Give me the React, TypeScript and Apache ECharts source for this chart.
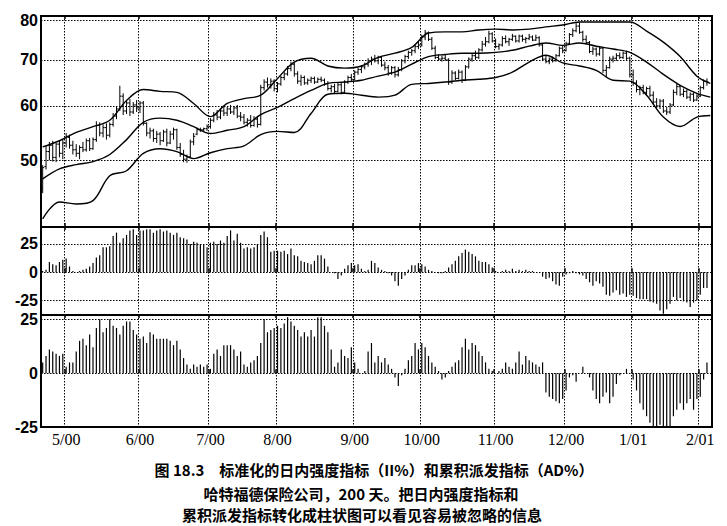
import React, { useEffect, useRef } from 'react';
import * as echarts from 'echarts';

const DAY_COUNT = 200;
const monthLabels = ['5/00', '6/00', '7/00', '8/00', '9/00', '10/00', '11/00', '12/00', '1/01', '2/01'];
const monthStarts = [7, 29, 50, 70, 93, 113, 135, 156, 176, 196];
const priceTicks = [50, 60, 70, 80];
const histTicks = [-25, 0, 25];

// [open, high, low, close] per trading day
const priceBars = [
  [45.5,49.2,44.8,48.8],[49.0,52.5,48.5,51.5],[51.5,53.2,50.0,52.6],[52.6,53.4,49.8,50.5],[50.5,53.0,49.7,52.8],
  [52.8,53.5,50.5,51.2],[51.2,53.6,50.2,53.0],[53.0,54.8,52.2,54.2],[54.0,54.5,52.0,52.6],[52.6,53.4,51.0,51.8],
  [51.8,52.8,50.6,51.2],[51.2,52.6,50.2,52.2],[52.2,53.2,51.4,51.8],[51.8,53.8,51.5,53.4],[53.4,53.9,51.6,52.0],
  [52.0,54.0,51.8,53.6],[53.6,57.0,53.2,56.2],[56.2,56.8,54.2,54.8],[54.8,56.4,54.0,55.8],[55.8,56.6,53.6,54.4],
  [54.4,56.8,54.0,56.4],[56.4,58.6,56.0,58.0],[58.0,60.0,57.4,59.4],[59.4,64.2,59.0,62.0],[62.0,62.6,58.2,59.0],
  [59.0,61.0,58.4,60.6],[60.6,61.4,58.0,58.8],[58.8,60.8,58.4,60.2],[60.2,61.2,58.8,59.6],[59.6,61.0,58.6,60.6],
  [60.6,61.0,56.2,56.6],[56.6,56.8,54.2,54.8],[54.8,55.8,53.8,55.2],[55.2,55.6,53.2,53.8],[53.8,55.2,53.0,54.6],
  [54.6,55.0,52.6,53.4],[53.4,55.4,53.2,55.0],[55.0,55.6,52.4,53.0],[53.0,55.2,52.8,54.6],[54.6,55.8,53.6,55.4],
  [55.4,55.6,51.8,52.2],[52.2,53.0,50.6,51.0],[51.0,51.8,49.7,50.2],[50.2,51.0,49.6,50.6],[50.6,53.6,50.4,53.2],
  [53.2,54.8,52.6,54.2],[54.6,55.8,54.4,55.4],[55.4,55.8,55.0,55.4],[55.4,55.8,55.0,55.6],[55.6,56.4,55.2,56.0],
  [56.0,57.6,55.6,57.2],[57.2,58.8,56.8,58.2],[58.2,59.2,57.2,57.8],[57.8,59.6,57.4,59.0],[59.0,60.0,58.0,58.6],
  [58.6,59.8,58.0,59.4],[59.4,60.2,58.4,58.8],[58.8,60.0,58.2,59.6],[59.6,60.2,57.6,58.0],[58.0,58.8,57.0,57.8],
  [57.8,58.4,56.4,56.8],[56.8,57.6,56.0,57.2],[57.2,58.2,55.8,56.2],[56.2,58.0,56.0,57.4],[57.4,57.8,55.8,56.4],
  [56.4,64.4,56.2,63.8],[63.8,65.6,63.2,65.0],[65.0,66.0,63.8,64.4],[64.4,65.8,63.6,65.2],[65.2,65.6,63.0,63.6],
  [63.6,65.0,62.8,64.6],[64.6,66.4,64.2,66.0],[66.0,67.2,65.4,66.8],[66.8,68.6,66.4,68.0],[68.0,69.6,67.4,69.0],
  [69.0,69.4,66.2,66.8],[66.8,67.4,64.6,65.2],[65.2,66.6,64.2,66.0],[66.0,66.4,64.4,64.8],[64.8,65.8,64.4,65.4],
  [65.4,66.2,64.8,65.8],[65.8,66.2,64.6,65.0],[65.0,66.0,64.8,65.6],[65.6,66.2,65.0,65.4],[65.4,65.8,64.2,64.6],
  [64.6,65.2,63.2,63.6],[63.6,64.4,62.8,64.0],[64.0,64.6,62.6,63.0],[63.0,64.8,62.8,64.4],[64.4,64.8,62.4,62.8],
  [62.8,65.4,62.6,65.0],[65.0,66.4,64.6,66.0],[66.0,66.8,65.2,65.6],[65.6,67.6,65.4,67.2],[67.2,68.2,66.6,67.8],
  [67.8,68.8,67.0,68.4],[68.4,69.4,67.8,69.0],[69.0,70.4,68.4,69.8],[69.8,70.8,68.8,70.2],[70.2,71.2,69.4,69.8],
  [69.8,71.0,69.0,70.6],[70.6,70.8,68.4,68.8],[68.8,69.6,67.6,68.2],[68.2,68.8,66.4,67.0],[67.0,68.6,66.6,68.2],
  [68.2,68.6,66.0,66.6],[66.6,68.4,66.2,67.8],[67.8,70.2,67.4,69.8],[69.8,71.2,69.2,70.8],[70.8,72.2,70.2,71.8],
  [71.8,72.6,71.0,72.2],[72.2,73.8,71.6,73.2],[73.2,74.4,72.6,73.6],[73.6,76.2,73.2,75.6],[75.6,77.4,74.8,76.6],
  [76.6,77.0,74.6,75.0],[75.0,75.6,72.4,72.8],[72.8,73.4,70.2,70.6],[70.6,71.4,69.8,70.2],[70.2,71.0,69.6,70.4],
  [70.4,71.2,69.8,70.0],[70.0,70.4,64.4,65.0],[65.0,67.6,64.6,67.0],[67.0,67.4,65.4,65.8],[65.8,67.8,65.6,67.2],
  [67.2,67.6,64.8,65.4],[65.4,68.8,65.2,68.4],[68.4,70.6,68.0,70.2],[70.2,71.6,69.6,71.0],[71.0,72.2,70.0,70.6],
  [70.6,72.8,70.2,72.4],[72.4,74.6,72.0,73.8],[73.8,75.6,73.2,74.4],[74.4,77.2,74.0,76.4],[76.4,76.8,74.2,74.6],
  [74.6,75.2,72.8,73.2],[73.2,74.0,72.4,73.6],[73.6,75.8,73.2,75.2],[75.2,76.0,74.0,74.4],[74.4,75.4,73.4,75.0],
  [75.0,76.4,74.6,75.8],[75.8,76.0,74.2,74.6],[74.6,76.2,74.2,75.8],[75.8,76.2,74.4,75.0],[75.0,75.6,74.0,75.2],
  [75.2,76.4,74.8,75.6],[75.6,76.0,74.6,74.8],[74.8,76.2,74.6,75.4],[75.4,75.8,73.2,73.6],[73.6,74.0,69.8,70.2],
  [70.2,71.0,69.2,69.6],[69.6,70.6,69.0,70.2],[70.2,70.8,69.4,69.8],[69.8,71.4,69.6,71.0],[71.0,73.2,70.8,72.8],
  [72.8,73.6,71.6,72.2],[72.2,74.4,72.0,74.0],[74.0,76.6,73.8,76.2],[76.2,77.8,75.6,77.2],[77.2,79.2,76.8,78.4],
  [78.4,79.4,76.4,76.8],[76.8,77.2,74.4,75.0],[75.0,76.0,73.8,74.2],[74.2,74.6,71.6,72.0],[72.0,73.2,71.2,72.6],
  [72.6,73.0,70.8,71.4],[71.4,73.2,71.0,72.8],[72.8,73.0,67.0,67.6],[67.6,68.8,66.0,68.2],[68.2,70.8,68.0,70.2],
  [70.2,71.0,69.4,70.4],[70.4,71.6,69.8,71.0],[71.0,71.8,70.2,70.6],[70.6,72.0,70.2,71.6],[71.6,72.2,70.0,70.4],
  [70.4,70.8,66.0,66.6],[66.6,67.8,64.2,64.8],[64.8,65.4,62.8,63.4],[63.4,64.2,62.2,63.8],[63.8,64.4,62.4,62.8],
  [62.8,64.0,62.2,63.6],[63.6,64.2,61.8,62.2],[62.2,63.0,60.2,60.8],[60.8,61.6,59.6,60.0],[60.0,61.4,59.4,61.0],
  [61.0,61.4,58.6,59.0],[59.0,59.8,58.2,58.8],[58.8,60.6,58.4,60.2],[60.2,63.4,60.0,62.8],[62.8,64.6,62.2,64.0],
  [64.0,64.4,62.0,62.4],[62.4,63.6,61.8,63.0],[63.0,63.4,61.4,61.8],[61.8,62.8,61.0,62.4],[62.4,62.8,60.8,61.2],
  [61.2,62.4,61.0,62.0],[62.0,64.2,61.8,63.8],[63.8,65.6,63.4,65.2],[65.2,65.8,64.2,65.0],
];

// Bollinger-style bands, read at every fifth day
const bandDays = [0,5,10,15,20,25,30,35,40,45,50,55,60,65,70,75,80,85,90,95,100,105,110,115,120,125,130,135,140,145,150,155,160,165,170,175,180,185,190,195,199];
const upperBand = [52.3,53.4,54.9,56.0,57.2,61.1,63.4,63.0,62.8,60.5,57.9,60.5,61.5,62.2,65.8,69.5,70.4,68.6,68.1,68.6,70.6,71.6,73.0,76.6,76.9,76.9,77.4,77.6,77.4,77.6,78.2,78.7,79.5,79.5,79.5,79.5,77.1,74.3,70.8,66.3,64.7];
const middleBand = [47.0,48.6,49.3,49.8,51.0,53.6,56.8,57.6,57.2,56.0,54.7,55.3,56.0,58.3,59.7,61.5,63.2,64.7,65.0,65.4,66.3,67.2,69.0,70.8,71.3,71.6,71.6,71.8,72.3,73.3,74.1,73.5,74.1,73.3,72.6,71.8,69.5,66.7,64.3,62.6,61.8];
const lowerBand = [41.1,43.5,43.2,43.7,47.5,48.3,51.2,52.0,51.5,50.3,51.3,52.0,52.5,54.5,55.1,54.9,58.5,62.4,62.6,62.2,61.8,62.2,64.5,64.7,65.0,65.4,65.6,66.0,67.2,69.5,71.1,69.3,68.6,67.6,65.4,65.2,62.2,57.8,56.0,57.8,58.1];

// Normalized intraday intensity (II%)
const iiPct = [
  1,2,9,7,6,9,11,12,5,1,
  0,1,2,3,5,8,13,15,22,22,
  23,32,35,26,30,33,37,38,33,37,
  37,38,38,35,37,38,36,37,35,33,
  35,31,30,29,25,27,26,25,24,22,
  26,27,25,28,26,32,37,28,34,26,
  21,22,21,22,25,33,36,31,18,19,
  19,18,19,16,21,15,14,10,9,8,
  7,10,15,15,12,5,0,-1,-6,-3,
  3,6,8,6,7,3,1,2,10,8,
  4,2,1,-1,-3,-8,-12,-6,-3,2,
  6,6,8,7,5,2,1,0,-1,-1,
  1,4,7,10,14,17,20,18,16,14,
  10,9,9,7,4,1,0,1,2,1,
  3,1,2,1,2,1,1,0,0,-4,
  -6,-5,-8,-11,-12,-4,-2,-1,1,-1,
  -2,-3,-6,-9,-12,-8,-10,-13,-20,-21,
  -18,-16,-20,-19,-22,-20,-21,-23,-24,-24,
  -24,-26,-27,-28,-34,-37,-33,-28,-22,-25,
  -23,-26,-27,-31,-27,-25,-20,-14,-14,
];

// Normalized accumulation-distribution (AD%)
const adPct = [
  5,8,11,10,9,8,9,3,5,5,
  10,15,16,13,18,12,21,25,19,21,
  25,22,21,18,22,24,24,20,18,16,
  17,14,19,18,16,16,16,16,15,13,
  15,11,7,4,2,4,3,4,3,4,
  2,9,11,8,13,13,13,11,8,10,
  4,3,5,6,8,14,25,19,20,21,
  22,21,23,26,24,22,20,17,19,17,
  20,17,26,26,22,19,11,3,5,11,
  8,7,12,5,2,0,1,10,14,5,
  8,5,7,4,2,-2,-6,-1,2,6,
  8,14,11,14,12,8,5,3,1,-3,
  -2,1,3,5,6,12,16,11,14,13,
  10,8,5,2,1,0,1,2,5,3,
  2,5,10,4,8,6,5,4,3,5,
  -9,-11,-12,-13,-14,-12,-8,-2,-1,-4,
  0,3,0,-2,-8,-12,-14,-11,-9,-14,
  -11,-5,-1,0,2,0,-3,-8,-14,-17,
  -20,-23,-25,-25,-24,-25,-25,-25,-20,-17,
  -14,-17,-14,-12,-17,-12,-11,-3,5,
];

const captionLines = [
  '图 18.3　标准化的日内强度指标（II%）和累积派发指标（AD%）',
  '哈特福德保险公司，200 天。把日内强度指标和',
  '累积派发指标转化成柱状图可以看见容易被忽略的信息',
];

const days = Array.from({ length: DAY_COUNT }, (_, i) => String(i));
const isMonth = (index: number) => monthStarts.indexOf(index) >= 0;
const monthFormatter = (_v: string, index: number) => {
  const k = monthStarts.indexOf(index);
  return k >= 0 ? monthLabels[k] : '';
};

const GRID_LEFT = 41;
const GRID_WIDTH = 671;
const grids = [
  { top: 16, height: 211 },
  { top: 227, height: 88 },
  { top: 315, height: 112 },
];

const dotted = { color: '#000', width: 1, type: [1.5, 1.5] as number[] };
const yLabelStyle = {
  color: '#000',
  fontFamily: '"Liberation Sans", Arial, sans-serif',
  fontSize: 16,
  fontWeight: 'bold' as const,
  margin: 3,
};

function buildOption() {
  const xAxes: any[] = [];
  grids.forEach((_, gi) => {
    xAxes.push({
      type: 'category',
      gridIndex: gi,
      data: days,
      position: 'bottom',
      boundaryGap: true,
      axisLine: { show: false },
      axisTick: { show: true, inside: true, length: 4, interval: isMonth, lineStyle: { color: '#000', width: 1.5 } },
      axisLabel: {
        show: gi === 2,
        interval: isMonth,
        formatter: monthFormatter,
        color: '#000',
        fontFamily: '"Liberation Serif", "Times New Roman", serif',
        fontSize: 16,
        margin: 4,
      },
      splitLine: { show: true, interval: isMonth, lineStyle: dotted },
    });
    xAxes.push({
      type: 'category',
      gridIndex: gi,
      data: days,
      position: 'top',
      boundaryGap: true,
      axisLine: { show: false },
      axisTick: { show: true, inside: true, length: 3, interval: isMonth, lineStyle: { color: '#000', width: 1.5 } },
      axisLabel: { show: false },
      splitLine: { show: false },
    });
  });

  const yAxes: any[] = [
    {
      type: 'log',
      gridIndex: 0,
      min: 40,
      max: 81.1,
      axisLine: { show: false },
      axisTick: { show: false, customValues: priceTicks },
      axisLabel: { ...yLabelStyle, customValues: priceTicks },
      splitLine: { show: true, lineStyle: dotted },
    },
    {
      type: 'value',
      gridIndex: 1,
      min: -38,
      max: 40,
      axisLine: { show: false },
      axisTick: { show: false, customValues: histTicks },
      axisLabel: { ...yLabelStyle, customValues: histTicks },
      splitLine: { show: true, lineStyle: dotted },
    },
    {
      type: 'value',
      gridIndex: 2,
      min: -25,
      max: 27,
      axisLine: { show: false },
      axisTick: { show: false, customValues: histTicks },
      axisLabel: { ...yLabelStyle, customValues: histTicks },
      splitLine: { show: true, lineStyle: dotted },
    },
  ];

  const bandSeries = (data: number[]) => ({
    type: 'line',
    xAxisIndex: 0,
    yAxisIndex: 0,
    data: bandDays.map((d, i) => [d, data[i]]),
    smooth: 0.35,
    showSymbol: false,
    symbol: 'none',
    lineStyle: { color: '#000', width: 1.4 },
    z: 3,
  });

  return {
    animation: false,
    backgroundColor: '#fff',
    grid: grids.map((g) => ({
      left: GRID_LEFT,
      width: GRID_WIDTH,
      top: g.top,
      height: g.height,
      show: true,
      borderColor: '#000',
      borderWidth: 2,
      backgroundColor: 'transparent',
    })),
    xAxis: xAxes,
    yAxis: yAxes,
    series: [
      {
        type: 'custom',
        xAxisIndex: 0,
        yAxisIndex: 0,
        data: priceBars.map((b, i) => [i, b[0], b[1], b[2], b[3]]),
        encode: { x: 0, y: [1, 2, 3, 4] },
        renderItem: (_params: any, api: any) => {
          const idx = api.value(0);
          const o = api.coord([idx, api.value(1)]);
          const h = api.coord([idx, api.value(2)]);
          const l = api.coord([idx, api.value(3)]);
          const c = api.coord([idx, api.value(4)]);
          const st = { stroke: '#000', lineWidth: 1 };
          const t = 1.6;
          return {
            type: 'group',
            children: [
              { type: 'line', shape: { x1: h[0], y1: h[1], x2: l[0], y2: l[1] }, style: st },
              { type: 'line', shape: { x1: o[0] - t, y1: o[1], x2: o[0], y2: o[1] }, style: st },
              { type: 'line', shape: { x1: c[0], y1: c[1], x2: c[0] + t, y2: c[1] }, style: st },
            ],
          };
        },
        z: 2,
      },
      bandSeries(upperBand),
      bandSeries(middleBand),
      bandSeries(lowerBand),
      {
        type: 'bar',
        xAxisIndex: 2,
        yAxisIndex: 1,
        data: iiPct,
        barWidth: 1.2,
        itemStyle: { color: '#000' },
      },
      {
        type: 'bar',
        xAxisIndex: 4,
        yAxisIndex: 2,
        data: adPct,
        barWidth: 1.2,
        itemStyle: { color: '#000' },
      },
    ],
    graphic: [
      { x: 374, y: 469, text: captionLines[0] },
      { x: 361, y: 493, text: captionLines[1] },
      { x: 362, y: 514, text: captionLines[2] },
    ].map((c) => ({
      type: 'text',
      x: c.x,
      y: c.y,
      style: {
        text: c.text,
        fill: '#000',
        fontSize: 15,
        fontWeight: 'bold',
        fontFamily: '"Noto Sans CJK SC", sans-serif',
        align: 'center',
        verticalAlign: 'middle',
        textAlign: 'center',
        textVerticalAlign: 'middle',
      },
    })),
  };
}

export default function App() {
  const ref = useRef<HTMLDivElement>(null);
  useEffect(() => {
    if (!ref.current) return;
    const chart = echarts.init(ref.current, null, { renderer: 'svg' });
    chart.setOption(buildOption() as any);
    return () => chart.dispose();
  }, []);
  return (
    <div
      ref={ref}
      style={{ position: 'fixed', left: 0, top: 0, width: 727, height: 526, background: '#fff' }}
    />
  );
}
